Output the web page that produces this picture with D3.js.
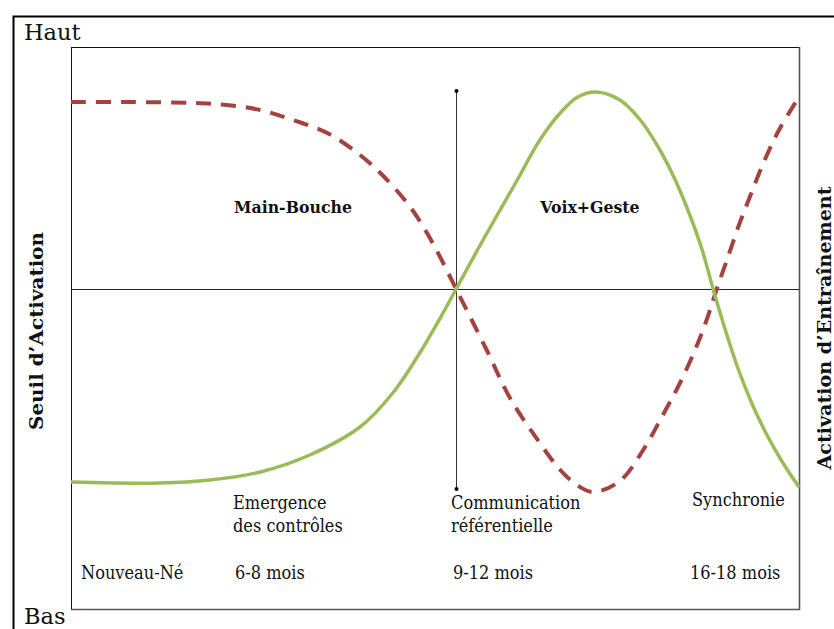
<!DOCTYPE html>
<html><head><meta charset="utf-8">
<script src="https://cdn.jsdelivr.net/npm/d3@7/dist/d3.min.js"></script>
<style>body{margin:0;background:#fff}svg{display:block}</style>
</head><body><svg id="c" width="834" height="629"></svg>
<script>
// ---- data (x: developmental timeline 0..100, y: activation, 0 = threshold) ----
const greenX = [0,12.2,19.1,26.0,32.8,39.7,44.2,47.9,51.1,52.9,56.6,61.3,64.4,67.2,69.6,72.1,75.4,78.2,80.9,83.0,85.0,86.7,88.2,89.8,91.6,93.5,95.6,97.8,100];
const greenY = [-0.965,-0.97,-0.955,-0.915,-0.83,-0.69,-0.52,-0.32,-0.12,0,0.245,0.545,0.745,0.88,0.96,0.985,0.945,0.845,0.695,0.545,0.37,0.195,0,-0.195,-0.395,-0.57,-0.73,-0.87,-0.99];
const redX = [0,7.7,16.8,21.4,26.0,30.5,35.2,39.7,42.9,46.6,48.9,50.7,52.9,57.1,60.3,64.4,67.2,69.5,71.7,75.4,78.6,81.3,83.65,86.0,87.5,88.7,90.1,91.6,93.3,95.05,97.25,100];
const redY = [0.935,0.935,0.93,0.92,0.895,0.845,0.78,0.67,0.565,0.41,0.28,0.16,0,-0.305,-0.545,-0.77,-0.905,-0.98,-1.015,-0.96,-0.805,-0.63,-0.47,-0.28,-0.135,0,0.145,0.305,0.465,0.625,0.795,0.96];
const markerX = [52.9];               // vertical marker (Communication référentielle)
const markerY = [0.99, -1.0];         // its two ends
const phaseLabels = ["Main-Bouche", "Voix+Geste"];
const milestoneLabels = [["Emergence", "des contrôles"], ["Communication", "référentielle"], ["Synchronie"]];
const stageLabels = ["Nouveau-Né", "6-8 mois", "9-12 mois", "16-18 mois"];
const leftTitle = "Seuil d\u2019Activation";
const rightTitle = "Activation d\u2019Entraînement";
const topLabel = "Haut", bottomLabel = "Bas";

// ---- layout ----
const W = 834, H = 629;
const box = {x0: 71, y0: 47, x1: 799, y1: 609};
const svg = d3.select("#c");
const x = d3.scaleLinear().domain([0, 100]).range([box.x0, box.x1]);
const y = d3.scaleLinear().domain([-1.6, 1.21]).range([box.y1, box.y0]);
const serifC = "'DejaVu Serif Condensed','DejaVu Serif',serif";
const serif = "'DejaVu Serif',serif";

svg.append("rect").attr("width", W).attr("height", H).attr("fill", "#fff");

// outer frame
svg.append("path").attr("d", `M13.5,${H} V16.5 H${W}`).attr("fill", "none")
  .attr("stroke", "#000").attr("stroke-width", 2);

// inner box
svg.append("rect").attr("x", box.x0 + 0.5).attr("y", box.y0 + 0.5)
  .attr("width", box.x1 - box.x0).attr("height", box.y1 - box.y0)
  .attr("fill", "none").attr("stroke", "#111").attr("stroke-width", 1);
svg.append("path").attr("d", `M${box.x1 + 0.5},${box.y0} V${box.y1 + 0.5} H${box.x0}`)
  .attr("fill", "none").attr("stroke", "#555").attr("stroke-width", 1.6);

// threshold line
svg.append("line").attr("x1", box.x0).attr("x2", box.x1)
  .attr("y1", Math.round(y(0)) + 0.5).attr("y2", Math.round(y(0)) + 0.5)
  .attr("stroke", "#222").attr("stroke-width", 1);

// vertical marker
markerX.forEach(mx => {
  const px = Math.round(x(mx)) + 0.5;
  svg.append("line").attr("x1", px).attr("x2", px)
    .attr("y1", y(markerY[0])).attr("y2", y(markerY[1]))
    .attr("stroke", "#333").attr("stroke-width", 1);
  markerY.forEach(my => svg.append("circle").attr("cx", px).attr("cy", y(my)).attr("r", 2).attr("fill", "#000"));
});

const line = d3.line().x(d => x(d[0])).y(d => y(d[1])).curve(d3.curveCatmullRom.alpha(0.5));
svg.append("path").datum(redX.map((v, i) => [v, redY[i]])).attr("d", line)
  .attr("fill", "none").attr("stroke", "#a3423f").attr("stroke-width", 4)
  .attr("stroke-dasharray", "15,10");
svg.append("path").datum(greenX.map((v, i) => [v, greenY[i]])).attr("d", line)
  .attr("fill", "none").attr("stroke", "#9bbb59").attr("stroke-width", 3.5);

function txt(s, px, py, size, opts) {
  opts = opts || {};
  const t = svg.append("text").text(s).attr("font-family", opts.family || serifC)
    .attr("font-size", size).attr("font-weight", opts.weight || "normal")
    .attr("text-anchor", opts.anchor || "start").attr("fill", "#111");
  if (opts.rot) t.attr("transform", `translate(${px},${py}) rotate(${opts.rot})`);
  else t.attr("x", px).attr("y", py);
  if (opts.len) t.attr("textLength", opts.len).attr("lengthAdjust", "spacingAndGlyphs");
  return t;
}

txt(topLabel, 24, 40, 22.5, {family: serif});
txt(bottomLabel, 24, 624, 22.5, {family: serif});
txt(leftTitle, 43, 331, 18, {family: serif, weight: "bold", anchor: "middle", rot: -90, len: 198});
txt(rightTitle, 831, 328, 18, {family: serif, weight: "bold", anchor: "middle", rot: -90, len: 283});

const phaseX = [293, 590];
phaseLabels.forEach((s, i) => txt(s, phaseX[i], 213, 17.5, {weight: "bold", anchor: "middle"}));

const milestoneX = [233, 451, 692];
const milestoneY = [509, 509, 506];
milestoneLabels.forEach((lines, i) => lines.forEach((s, j) => txt(s, milestoneX[i], milestoneY[i] + j * 23, 18)));

const stageX = [81, 235, 453, 690];
stageLabels.forEach((s, i) => txt(s, stageX[i], 579, 18));
</script></body></html>
